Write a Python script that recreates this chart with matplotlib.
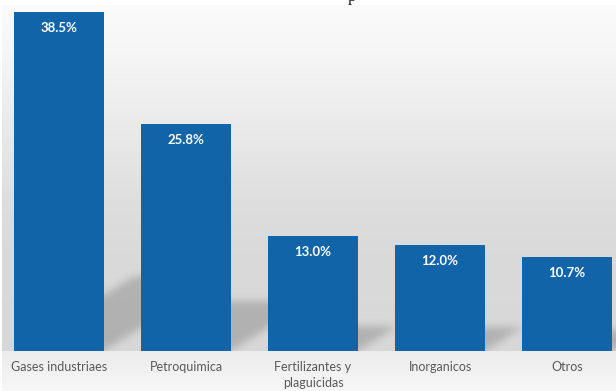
import numpy as np
import matplotlib
matplotlib.use("Agg")
import matplotlib.pyplot as plt

categories = ["Gases industriaes", "Petroquimica", "Fertilizantes y\nplaguicidas",
              "Inorganicos", "Otros"]
shares = [38.5, 25.8, 13.0, 12.0, 10.7]
value_labels = ["38.5%", "25.8%", "13.0%", "12.0%", "10.7%"]

W, H = 616, 391
DPI = 100
BAR_COLOR = "#1164a8"
FONT = ["Lato", "DejaVu Sans"]

fig = plt.figure(figsize=(W / DPI, H / DPI), dpi=DPI)
fig.patch.set_facecolor("white")

# background layer, working in pixel units (origin top-left)
bg = fig.add_axes([0, 0, 1, 1], zorder=0)
bg.set_xlim(0, W)
bg.set_ylim(H, 0)
bg.axis("off")

# chart axes: baseline 350.7 px from the top, 127 px per category
base_px = 350.7
px_per_unit = 8.797
ax = fig.add_axes([-4.5 / W, (H - base_px) / H, 635 / W, base_px / H], zorder=1)
ax.set_xlim(-0.5, 4.5)
ax.set_ylim(0, base_px / px_per_unit)
ax.patch.set_alpha(0)
for s in ax.spines.values():
    s.set_visible(False)
ax.set_yticks([])

xpos = np.arange(len(categories))
bars = ax.bar(xpos, shares, width=0.709, color=BAR_COLOR, zorder=3)

# value labels inside the top of each bar
for b, lab in zip(bars, value_labels):
    ax.annotate(lab, (b.get_x() + b.get_width() / 2, b.get_height()),
                xytext=(0, -11.5), textcoords="offset points",
                ha="center", va="center", color="white", fontweight="bold",
                fontsize=9.5, family=FONT, zorder=4)

ax.set_xticks(xpos, categories)
ax.tick_params(axis="x", length=0, pad=7.5, labelsize=9, labelcolor="#595959")
for t in ax.get_xticklabels():
    t.set_family(FONT)
    t.set_linespacing(1.4)

# ---- wall / floor gradient with soft perspective shadows ----
rows = np.arange(H) + 0.5
cols = np.arange(W) + 0.5
wall = np.interp(rows, [5, 60, 110, 200, 250, 350],
                 [251, 245, 237, 222, 218, 216])
floor = np.interp(rows, [351, 391], [236, 247])
gray = np.where(rows < base_px, wall, floor)
img = np.repeat(gray[:, None], W, axis=1).astype(float)

# shadow parallelograms cast up and to the right of each bar
fig.canvas.draw()
mask = np.zeros((H, W))
CC, RR = np.meshgrid(cols, rows)
lift = base_px - RR                     # height above the baseline, px
slope = 0.62
for b in bars:
    (x0, y0), (x1, y1) = ax.transData.transform(
        [(b.get_x(), 0), (b.get_x() + b.get_width(), b.get_height())])
    h = y1 - y0
    top = 0.22 * h
    shift = lift / slope
    inside = (lift >= 0) & (lift <= top) & (CC >= x0 + shift) & (CC <= x1 + shift)
    mask = np.maximum(mask, inside.astype(float))


def gauss_blur(a, sigma):
    r = int(3 * sigma)
    k = np.exp(-0.5 * (np.arange(-r, r + 1) / sigma) ** 2)
    k /= k.sum()
    pad = np.pad(a, r, mode="edge")
    tmp = np.apply_along_axis(lambda v: np.convolve(v, k, mode="valid"), 1, pad)
    return np.apply_along_axis(lambda v: np.convolve(v, k, mode="valid"), 0, tmp)


soft = gauss_blur(mask, 4.0)
soft[rows >= base_px, :] = 0
img = img * (1 - 0.18 * soft)

# white margin around the plot area
img[:5, :] = 255
img[:, :2] = 255

rgb = np.clip(np.stack([img] * 3, axis=-1) / 255.0, 0, 1)
bg.imshow(rgb, extent=(0, W, H, 0), interpolation="bilinear", aspect="auto")

# descender of the chart title, which runs off the top edge
fig.text(352 / W, 1 - 1.0 / H, "p", ha="center", va="baseline",
         fontsize=12, family="Liberation Serif", color="#222222")

fig.savefig("out.png", dpi=DPI)
